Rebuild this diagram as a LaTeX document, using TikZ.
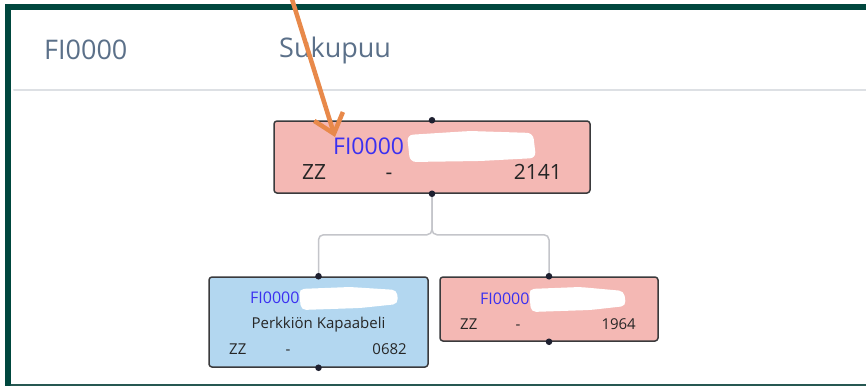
\documentclass[tikz,border=0pt]{standalone}
\usepackage{fontspec}
\setmainfont{Open Sans}
\usetikzlibrary{arrows.meta,positioning}
\definecolor{framegreen}{HTML}{00473E}
\definecolor{hdrgray}{HTML}{5B7089}
\definecolor{sepgray}{HTML}{DDE0E4}
\definecolor{rosefill}{HTML}{F4B8B4}
\definecolor{bluefill}{HTML}{B3D7F0}
\definecolor{boxline}{HTML}{3A3A3C}
\definecolor{idblue}{HTML}{3B30F0}
\definecolor{linkgray}{HTML}{C4C5CA}
\definecolor{dotc}{HTML}{1E2030}
\definecolor{markorange}{HTML}{E8894A}

\begin{document}
\begin{tikzpicture}[x=1pt,y=-1pt,line cap=round,line join=round,
  box/.style={draw=boxline,line width=1.5pt,rounded corners=3pt,inner sep=0pt},
  hdr/.style={font=\fontsize{27}{30}\selectfont,text=hdrgray,anchor=west,inner sep=0pt},
  bigid/.style={font=\fontsize{23}{26}\selectfont,text=idblue,anchor=west,inner sep=0pt},
  bigtxt/.style={font=\fontsize{21}{24}\selectfont,text=black!85,inner sep=0pt},
  smallid/.style={font=\fontsize{16}{19}\selectfont,text=idblue,anchor=west,inner sep=0pt},
  smalltxt/.style={font=\fontsize{15}{18}\selectfont,text=black!85,inner sep=0pt},
  link/.style={draw=linkgray,line width=1.5pt,rounded corners=5pt}]
\useasboundingbox (0,0) rectangle (866,386);
\fill[white] (0,0) rectangle (866,386);
% frame of the window
\fill[framegreen] (5,4) rectangle (866,10);
\fill[framegreen] (5,4) rectangle (11,386);
\draw[framegreen!70!gray,line width=1.5pt] (11,385.2) -- (866,385.2);
% header
\node[hdr] (hid) at (44,50) {FI0000};
\node[hdr] (htitle) at (279,50) {Sukupuu};
\draw[sepgray,line width=2pt] (14,90) -- (866,90);
% family tree boxes
\node[box,fill=rosefill,minimum width=316pt,minimum height=72pt] (root) at (432,157) {};
\node[box,fill=bluefill,minimum width=219pt,minimum height=90pt] (kid1) at (318.5,322) {};
\node[box,fill=rosefill,minimum width=218pt,minimum height=64pt] (kid2) at (549,309) {};
% connectors
\draw[link] (root.south) -- ++(0,41) -| (kid1.north);
\draw[link] (root.south) -- ++(0,41) -| (kid2.north);
\foreach \n in {root,kid1,kid2} {
  \fill[dotc] (\n.north) circle (3.3pt);
  \fill[dotc] (\n.south) circle (3.3pt);
}
% root box
\node[bigid] (rootid) at (333,146) {FI0000};
\fill[white,rounded corners=6pt] (407,135) -- (470,131) -- (533,133) -- (536,158) -- (480,161) -- (410,162) -- cycle;
\node[bigtxt,anchor=base west] (rootzz) at (302,179) {ZZ};
\node[bigtxt,anchor=base] (rootdash) at (389,179) {-};
\node[bigtxt,anchor=base east] (rootyr) at (562,179) {2141};
% first child
\node[smallid] (kid1id) at (250,298) {FI0000};
\fill[white,rounded corners=5pt] (299,289) -- (350,287) -- (397,290) -- (398,304) -- (360,308) -- (301,310) -- cycle;
\node[smalltxt] (kid1name) at (318.5,325) {Perkkiön Kapaabeli};
\node[smalltxt,anchor=base west] (kid1zz) at (229,354) {ZZ};
\node[smalltxt,anchor=base] (kid1dash) at (288,354) {-};
\node[smalltxt,anchor=base east] (kid1yr) at (407,354) {0682};
% second child
\node[smallid] (kid2id) at (480,299) {FI0000};
\fill[white,rounded corners=5pt] (529,289) -- (580,287) -- (624,291) -- (626,306) -- (590,310) -- (531,312) -- cycle;
\node[smalltxt,anchor=base west] (kid2zz) at (460,329) {ZZ};
\node[smalltxt,anchor=base] (kid2dash) at (518,329) {-};
\node[smalltxt,anchor=base east] (kid2yr) at (636,329) {1964};
% orange marker arrow
\coordinate (astart) at (291,-4);
\coordinate (atip) at (335,137);
\draw[markorange,line width=4.5pt,-{Straight Barb[length=18pt,width=30pt,line width=4.5pt]}] (astart) -- (atip);
\end{tikzpicture}
\end{document}
